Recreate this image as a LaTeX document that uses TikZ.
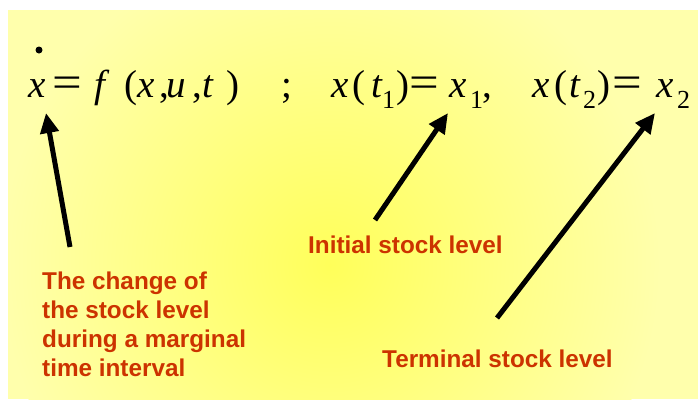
\documentclass[tikz,border=0pt]{standalone}
\usepackage{fontspec}
\setmainfont{Liberation Serif}
\newfontfamily\labfont{Liberation Sans}
\usetikzlibrary{arrows.meta}
\definecolor{labred}{RGB}{204,51,0}
\definecolor{edgey}{RGB}{255,255,172}
\definecolor{centery}{RGB}{255,255,90}
\tikzset{
  eq/.style={inner sep=0pt, anchor=base west, font=\fontsize{39}{42}\selectfont},
  eqsub/.style={inner sep=0pt, anchor=base west, font=\fontsize{26}{28}\selectfont},
  lab/.style={inner sep=0pt, anchor=base west, text=labred, font=\labfont\bfseries\fontsize{24.3}{29}\selectfont, align=left},
  pointer/.style={line width=5pt, -{Triangle[length=20pt,width=18pt]}},
}
\newcommand{\eqsign}{\scalebox{1.35}[1.15]{=}}
\begin{document}
\begin{tikzpicture}[x=1pt,y=-1pt]
\useasboundingbox (0,0) rectangle (698,399);
\begin{scope}
  \clip (8,10) rectangle (698,399);
  \fill[edgey] (8,10) rectangle (698,399);
  \shade[inner color=centery, outer color=edgey] (330,265) circle (330);
\end{scope}
% dot over x
\fill (39,50) circle (3.5);
% first equation
\foreach \gx/\g [count=\i] in {28/{\textit{x}}, 52/{\eqsign}, 94/{\textit{f}}, 124/{(}, 137/{\textit{x}}, 159/{,}, 166/{\textit{u}}, 192/{,}, 202/{\textit{t}}, 226/{)}, 281/{;}}
  \node[eq] (a\i) at (\gx,97) {\g};
% second equation
\foreach \gx/\g [count=\i] in {331/{\textit{x}}, 352/{(}, 371/{\textit{t}}, 396/{)}, 409/{\eqsign}, 449/{\textit{x}}, 482/{,}}
  \node[eq] (b\i) at (\gx,97) {\g};
\node[eqsub] (bs1) at (382,108) {1};
\node[eqsub] (bs2) at (470,108) {1};
% third equation
\foreach \gx/\g [count=\i] in {532/{\textit{x}}, 554/{(}, 569/{\textit{t}}, 597/{)}, 612/{\eqsign}, 656/{\textit{x}}}
  \node[eq] (c\i) at (\gx,97) {\g};
\node[eqsub] (cs1) at (583,108) {2};
\node[eqsub] (cs2) at (677,108) {2};
% labels
\node[lab] (change) at (42,376) {The change of\\the stock level\\during a marginal\\time interval};
\node[lab] (initial) at (308,253) {Initial stock level};
\node[lab] (terminal) at (382,367) {Terminal stock level};
% arrows
\coordinate (t1) at (70,247);
\coordinate (h1) at (46,113);
\coordinate (t2) at (375,220);
\coordinate (h2) at (448,113);
\coordinate (t3) at (497,318);
\coordinate (h3) at (655,113);
\draw[pointer] (t1) -- (h1);
\draw[pointer] (t2) -- (h2);
\draw[pointer] (t3) -- (h3);
\end{tikzpicture}
\end{document}
